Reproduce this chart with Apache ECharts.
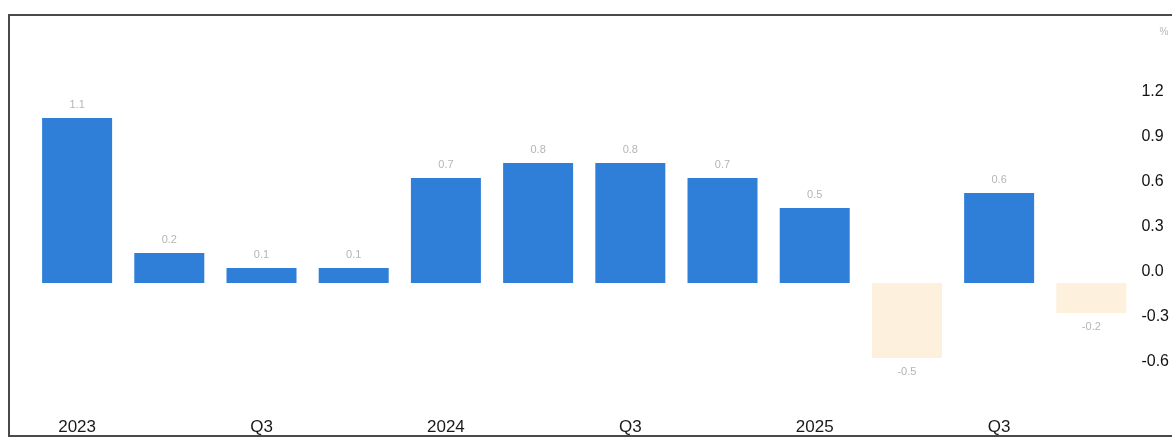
<!DOCTYPE html>
<html>
<head>
<meta charset="utf-8">
<script src="https://cdn.jsdelivr.net/npm/echarts@6/dist/echarts.min.js"></script>
<style>
  html, body { margin: 0; padding: 0; background: #ffffff; }
  #chart { width: 1172px; height: 439px; }
</style>
</head>
<body>
<div id="chart"></div>
<script>
// Quarterly change, per cent
const quarters = ['2023', 'Q2', 'Q3', 'Q4', '2024', 'Q2', 'Q3', 'Q4', '2025', 'Q2', 'Q3', 'Q4'];
const changes = [1.1, 0.2, 0.1, 0.1, 0.7, 0.8, 0.8, 0.7, 0.5, -0.5, 0.6, -0.2];
const yTicks = { min: -0.6, max: 1.2, step: 0.3 };

const upColor = '#2f7fd9';
const downColor = '#fdf0dc';

const chart = echarts.init(document.getElementById('chart'));

chart.setOption({
  animation: false,
  backgroundColor: '#ffffff',
  textStyle: { fontFamily: 'Liberation Sans, Arial, sans-serif' },
  graphic: [
    {
      type: 'rect',
      shape: { x: 9, y: 15, width: 1200, height: 421 },
      style: { fill: 'none', stroke: '#4a4a4a', lineWidth: 2 },
      silent: true
    }
  ],
  grid: { left: 31, right: 34, top: 103, bottom: 66 },
  xAxis: {
    type: 'category',
    data: quarters,
    axisLine: { show: false },
    axisTick: { show: false },
    axisLabel: {
      interval: 1,
      margin: 46,
      fontSize: 17,
      color: '#1a1a1a'
    }
  },
  yAxis: {
    type: 'value',
    position: 'right',
    min: yTicks.min,
    max: yTicks.max,
    interval: yTicks.step,
    name: '%',
    nameLocation: 'end',
    nameGap: 66,
    nameTextStyle: { color: '#b8b8b8', fontSize: 10, align: 'left', padding: [0, 0, 0, 22] },
    axisLine: { show: false },
    axisTick: { show: false },
    splitLine: { show: false },
    axisLabel: {
      margin: 4,
      fontSize: 16,
      color: '#111111',
      verticalAlign: 'bottom',
      lineHeight: 22,
      formatter: v => v.toFixed(1)
    }
  },
  series: [
    {
      type: 'bar',
      barWidth: 70,
      data: changes.map(v => ({
        value: v,
        itemStyle: { color: v < 0 ? downColor : upColor },
        label: { position: v < 0 ? 'bottom' : 'top' }
      })),
      label: {
        show: true,
        distance: 8,
        fontSize: 11,
        color: '#b5b5b5',
        formatter: p => p.value.toFixed(1)
      }
    }
  ]
});
</script>
</body>
</html>
